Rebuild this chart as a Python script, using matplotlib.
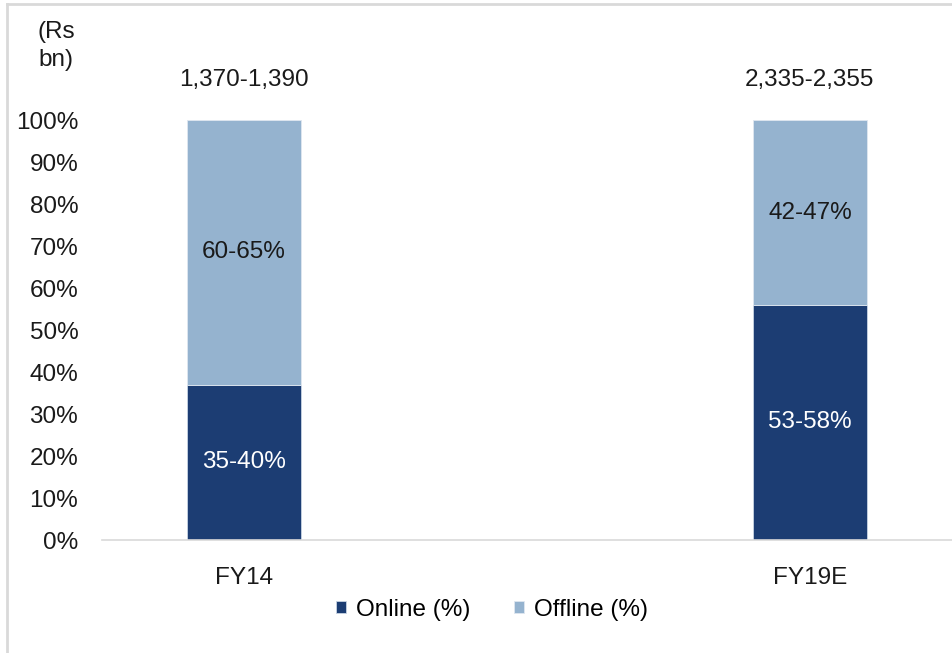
import matplotlib
matplotlib.use('Agg')
import matplotlib.pyplot as plt
from matplotlib.lines import Line2D

plt.rcParams['font.family'] = ['Liberation Sans', 'DejaVu Sans']

# data
categories = ['FY14', 'FY19E']
online = [0.37, 0.56]
offline = [0.63, 0.44]
online_labels = ['35-40%', '53-58%']
offline_labels = ['60-65%', '42-47%']
totals = ['1,370-1,390', '2,335-2,355']

dark = '#1c3d73'
light = '#95b3cf'
fs = 17.5

fig = plt.figure(figsize=(9.52, 6.53), dpi=100)
ax = fig.add_axes([0.107, 0.173, 0.893, 0.643])

x = list(range(len(categories)))
ax.bar(x, online, width=0.2, color=dark, edgecolor='#c8d4e4', linewidth=0.6, label='Online (%)')
ax.bar(x, offline, width=0.2, bottom=online, color=light, edgecolor='#dfe7f0', linewidth=0.6, label='Offline (%)')

for i in x:
    ax.text(i, online[i] / 2, online_labels[i], ha='center', va='center', color='white', fontsize=fs)
    ax.text(i, online[i] + offline[i] / 2, offline_labels[i], ha='center', va='center', color='#1a1a1a', fontsize=fs)
    ax.text(i, 1.095, totals[i], ha='center', va='center', color='#1a1a1a', fontsize=fs)

ax.set_xlim(-0.251, 1.251)
ax.set_ylim(0, 1)
ax.set_yticks([i / 10 for i in range(11)])
ax.set_yticklabels([f'{i * 10}%' for i in range(11)])
ax.set_xticks(x)
ax.set_xticklabels(categories)
ax.tick_params(axis='both', length=0, labelsize=fs, colors='#1a1a1a')
ax.tick_params(axis='x', pad=19.5)
ax.tick_params(axis='y', pad=17)
for s in ['top', 'right', 'left']:
    ax.spines[s].set_visible(False)
ax.spines['bottom'].set_color('#d9d9d9')
ax.spines['bottom'].set_linewidth(1.2)

fig.text(56 / 952, 1 - 46 / 653, '(Rs\nbn)', ha='center', va='center',
         fontsize=fs, color='#1a1a1a', linespacing=1.3)

fig.legend(loc='center', bbox_to_anchor=(492 / 952, 1 - 610 / 653), ncol=2, frameon=False,
           fontsize=fs, handlelength=0.4, handleheight=0.4, handletextpad=0.4, columnspacing=1.8)

# border
fig.add_artist(Line2D([7 / 952, 7 / 952], [0, 1 - 4 / 653], color='#d9d9d9', lw=2, transform=fig.transFigure))
fig.add_artist(Line2D([7 / 952, 1], [1 - 4 / 653, 1 - 4 / 653], color='#d9d9d9', lw=2, transform=fig.transFigure))

fig.savefig('out.png', dpi=100)
